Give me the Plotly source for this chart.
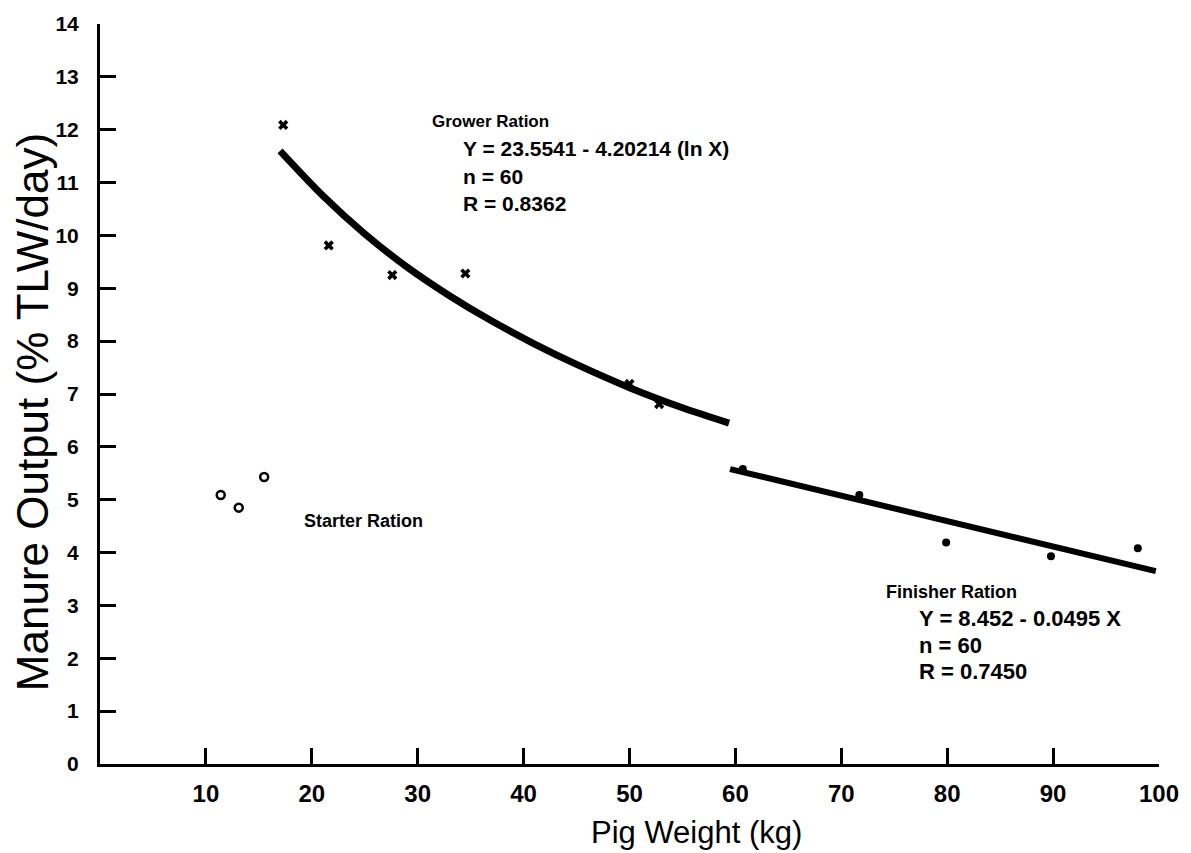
import plotly.graph_objects as go

# ---- data ----
starter_x = [11.4, 13.1, 15.5]
starter_y = [5.09, 4.85, 5.43]

grower_x = [17.3, 21.6, 27.6, 34.5, 50.0, 52.8]
grower_y = [12.09, 9.81, 9.25, 9.28, 7.19, 6.81]

finisher_x = [60.7, 71.7, 79.9, 89.8, 98.0]
finisher_y = [5.58, 5.09, 4.19, 3.93, 4.08]

grower_fit_x = [17.0, 21.0, 25.0, 29.0, 33.0, 37.0, 41.0, 45.0, 50.0, 55.0, 59.4]
grower_fit_y = [11.60, 10.76, 10.03, 9.40, 8.86, 8.38, 7.95, 7.56, 7.12, 6.74, 6.45]

finisher_fit_x = [59.5, 99.7]
finisher_fit_y = [5.58, 3.65]

x_ticks = [10, 20, 30, 40, 50, 60, 70, 80, 90, 100]
y_ticks = list(range(0, 15))

BOLD = "Liberation Sans"
NARROW = "Liberation Sans Narrow, Arial Narrow, Liberation Sans, Arial"

fig = go.Figure()

fig.add_trace(go.Scatter(x=grower_fit_x, y=grower_fit_y, mode="lines",
                         line=dict(color="black", width=7, shape="spline", smoothing=0.8),
                         hoverinfo="skip", showlegend=False))
fig.add_trace(go.Scatter(x=finisher_fit_x, y=finisher_fit_y, mode="lines",
                         line=dict(color="black", width=6),
                         hoverinfo="skip", showlegend=False))
fig.add_trace(go.Scatter(x=starter_x, y=starter_y, mode="markers", name="Starter",
                         marker=dict(symbol="circle-open", size=8, color="black",
                                     line=dict(width=2.5, color="black")),
                         showlegend=False))
fig.add_trace(go.Scatter(x=grower_x, y=grower_y, mode="markers", name="Grower",
                         marker=dict(symbol="x", size=9, color="black",
                                     line=dict(width=0)),
                         showlegend=False))
fig.add_trace(go.Scatter(x=finisher_x, y=finisher_y, mode="markers", name="Finisher",
                         marker=dict(symbol="circle", size=8, color="black"),
                         showlegend=False))

W, H = 1191, 853
L, R, T, B = 100, 26, 16, 89
pw, ph = W - L - R, H - T - B

def px(xp):
    return (xp - L) / pw

def py(yp):
    return 1 - (yp - T) / ph

ann = []
def add_text(text, x, y, size, xanchor="left", bold=True, family=BOLD, angle=0):
    t = f"<b>{text}</b>" if bold else text
    ann.append(dict(text=t, x=px(x), y=py(y), xref="paper", yref="paper",
                    xanchor=xanchor, yanchor="middle", showarrow=False,
                    textangle=angle,
                    font=dict(family=family, size=size, color="black")))

add_text("Grower Ration", 432, 115, 17)
add_text("Y = 23.5541 - 4.20214 (ln X)", 463, 142, 21)
add_text("n = 60", 463, 170, 21)
add_text("R = 0.8362", 463, 197, 21)
add_text("Starter Ration", 303, 518, 18)
add_text("Finisher Ration", 888, 590, 18)
add_text("Y = 8.452 - 0.0495 X", 922, 617, 22)
add_text("n = 60", 922, 644, 22)
add_text("R = 0.7450", 922, 671, 22)

add_text("Pig Weight (kg)", 700, 833, 31, xanchor="center", bold=False, family=NARROW)
add_text("Manure Output (% TLW/day)", 32, 408, 44, xanchor="center", bold=False,
         family=NARROW, angle=-90)

fig.update_layout(
    width=W, height=H,
    margin=dict(l=L, r=R, t=T, b=B),
    plot_bgcolor="white", paper_bgcolor="white",
    annotations=ann,
    xaxis=dict(range=[0, 100], tickvals=x_ticks, ticktext=[str(v) for v in x_ticks],
               showgrid=False, zeroline=False, showline=True, linecolor="black",
               linewidth=3, ticks="inside", ticklen=16, tickwidth=2.5, tickcolor="black",
               ticklabelstandoff=6,
               tickfont=dict(family=BOLD, size=24, color="black", weight="bold")),
    yaxis=dict(range=[0, 14], tickvals=y_ticks, ticktext=[str(v) for v in y_ticks],
               showgrid=False, zeroline=False, showline=True, linecolor="black",
               linewidth=3, ticks="inside", ticklen=16, tickwidth=2.5, tickcolor="black",
               ticklabelstandoff=14,
               tickfont=dict(family=BOLD, size=21, color="black", weight="bold")),
)

fig.write_html("out.html")
